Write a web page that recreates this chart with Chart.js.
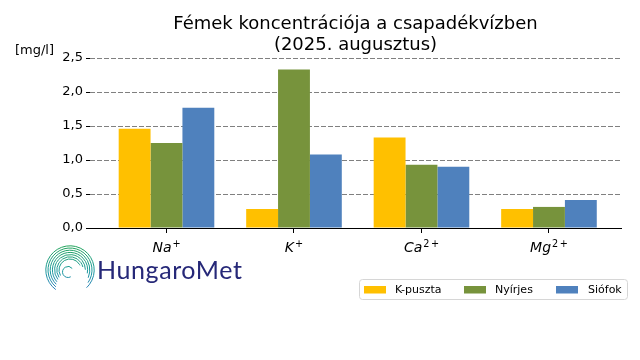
<!DOCTYPE html>
<html><head><meta charset="utf-8">
<script src="https://cdn.jsdelivr.net/npm/chart.js@4/dist/chart.umd.min.js"></script>
<style>html,body{margin:0;padding:0;background:#fff}#wrap{width:640px;height:360px;position:relative}</style>
</head><body><div id="wrap"><canvas id="c" width="640" height="360"></canvas></div>
<script>
const categories = ['Na', 'K', 'Ca', 'Mg'];
const charges = ['+', '+', '2+', '2+'];
const seriesNames = ['K-puszta', 'Nyírjes', 'Siófok'];
const kpuszta = [1.46, 0.28, 1.33, 0.28];
const nyirjes = [1.25, 2.33, 0.93, 0.31];
const siofok = [1.77, 1.08, 0.90, 0.41];
const yTicks = [0, 0.5, 1.0, 1.5, 2.0, 2.5];
const titleLines = ['Fémek koncentrációja a csapadékvízben', '(2025. augusztus)'];
const unitLabel = '[mg/l]';
const seriesColors = ['#FFC000', '#77933C', '#4F81BD'];

const FONT = "'DejaVu Sans', sans-serif";
const allSeries = [kpuszta, nyirjes, siofok];

const datasets = allSeries.map((vals, s) => ({
  label: seriesNames[s],
  data: vals.map((v, i) => ({ x: i, y: v })),
  backgroundColor: seriesColors[s],
  borderWidth: 0,
  categoryPercentage: 0.75,
  barPercentage: 1.0
}));

const decor = {
  id: 'decor',
  afterDraw(chart) {
    const ctx = chart.ctx;
    const ca = chart.chartArea;
    ctx.save();
    // title
    ctx.fillStyle = '#000';
    ctx.textAlign = 'center';
    ctx.textBaseline = 'middle';
    ctx.font = '18px ' + FONT;
    const cx = (ca.left + ca.right) / 2;
    ctx.fillText(titleLines[0], cx, 24);
    ctx.fillText(titleLines[1], cx, 45);
    // unit
    ctx.font = '13px ' + FONT;
    ctx.textAlign = 'left';
    ctx.fillText(unitLabel, 15, 51);

    // x category labels with superscript charges
    const xs = chart.scales.x;
    ctx.textBaseline = 'alphabetic';
    ctx.textAlign = 'left';
    categories.forEach((name, i) => {
      const px = xs.getPixelForValue(i);
      ctx.font = 'italic 14px ' + FONT;
      const wBase = ctx.measureText(name).width;
      ctx.font = '9.7px ' + FONT;
      const parts = charges[i].split('');
      const wParts = parts.map(p => ctx.measureText(p).width);
      const gap = 1.5;
      const wSup = wParts.reduce((a, b) => a + b, 0) + gap * (parts.length - 1);
      let x0 = px - (wBase + 1 + wSup) / 2;
      ctx.fillStyle = '#000';
      ctx.font = 'italic 14px ' + FONT;
      ctx.fillText(name, x0, 252);
      let sx = x0 + wBase + 1;
      ctx.font = '9.7px ' + FONT;
      parts.forEach((p, k) => {
        ctx.fillText(p, sx, 246.5);
        sx += wParts[k] + gap;
      });
    });

    // legend
    const lx = 359.5, ly = 279.5, lw = 268, lh = 20;
    ctx.beginPath();
    if (ctx.roundRect) ctx.roundRect(lx, ly, lw, lh, 3); else ctx.rect(lx, ly, lw, lh);
    ctx.fillStyle = 'rgba(255,255,255,0.8)';
    ctx.fill();
    ctx.strokeStyle = '#d6d6d6';
    ctx.lineWidth = 1;
    ctx.stroke();
    const patchX = [364, 464, 556];
    const textX = [395, 495, 588];
    ctx.font = '11px ' + FONT;
    ctx.textBaseline = 'middle';
    chart.data.datasets.forEach((ds, i) => {
      ctx.fillStyle = ds.backgroundColor;
      ctx.fillRect(patchX[i], 286, 22, 7.5);
      ctx.fillStyle = '#000';
      ctx.fillText(ds.label, textX[i], 290);
    });

    // logo
    const lcx = 70, lcy = 270;
    const grad = ctx.createLinearGradient(0, 246, 0, 295);
    grad.addColorStop(0, '#22a35a');
    grad.addColorStop(0.5, '#1b9a9c');
    grad.addColorStop(1, '#2e77c2');
    ctx.strokeStyle = grad;
    ctx.lineWidth = 1;
    const deg = Math.PI / 180;
    for (let k = 0; k < 7; k++) {
      const r = 11 + k * 2.2;
      const a0 = (150 - k * 4) * deg;
      const a1 = (335 + k * 12) * deg;
      ctx.beginPath();
      ctx.arc(lcx, lcy, r, a0, a1, false);
      ctx.stroke();
    }
    ctx.beginPath();
    ctx.arc(lcx - 2, lcy + 2, 5.5, 60 * deg, 320 * deg, false);
    ctx.stroke();
    ctx.fillStyle = '#262878';
    ctx.font = '400 25px Lato, ' + FONT;
    if ('letterSpacing' in ctx) ctx.letterSpacing = '0.6px';
    ctx.textAlign = 'left';
    ctx.textBaseline = 'alphabetic';
    ctx.fillText('HungaroMet', 97, 279, 148);
    ctx.restore();
  }
};

new Chart(document.getElementById('c'), {
  type: 'bar',
  data: { datasets },
  options: {
    responsive: false,
    animation: false,
    devicePixelRatio: 1,
    events: [],
    layout: { padding: { left: 0, right: 19, top: 58, bottom: 102 } },
    plugins: { legend: { display: false }, tooltip: { enabled: false }, title: { display: false } },
    scales: {
      x: {
        type: 'linear',
        min: -0.6,
        max: 3.565,
        offset: false,
        afterFit(scale) { scale.height = 30; },
        afterBuildTicks(scale) { scale.ticks = categories.map((_, i) => ({ value: i })); },
        grid: { offset: false, drawOnChartArea: false, drawTicks: true, tickLength: 5, tickColor: '#000', color: '#000' },
        border: { display: true, color: '#000', width: 1 },
        ticks: { display: false, autoSkip: false, maxRotation: 0 }
      },
      y: {
        min: 0,
        max: 2.5,
        afterFit(scale) { scale.width = 90; },
        afterBuildTicks(scale) { scale.ticks = yTicks.map(v => ({ value: v })); },
        grid: { color: '#808080', lineWidth: 1, tickLength: 4, tickColor: '#000', tickBorderDash: [] },
        border: { display: false, dash: [5, 2] },
        ticks: {
          padding: 3, color: '#000',
          font: { family: FONT, size: 13 },
          callback: (v) => Number(v).toFixed(1).replace('.', ',')
        }
      }
    }
  },
  plugins: [decor]
});
</script>
</body></html>
